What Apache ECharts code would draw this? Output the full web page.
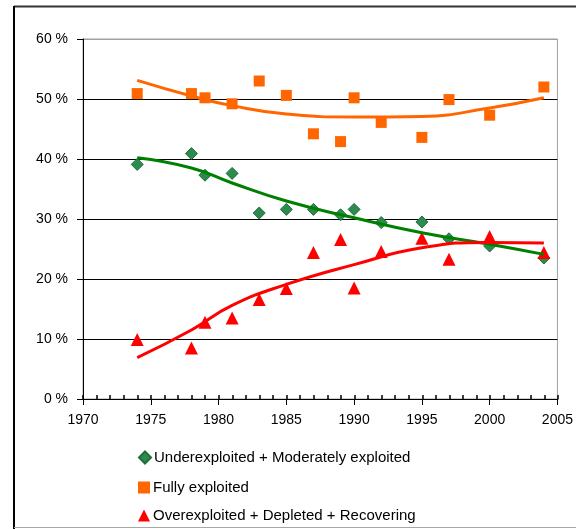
<!DOCTYPE html>
<html>
<head>
<meta charset="utf-8">
<script src="https://cdn.jsdelivr.net/npm/echarts@6/dist/echarts.min.js"></script>
<style>
html,body{margin:0;padding:0;background:#fff;}
#chart{width:576px;height:529px;}
</style>
</head>
<body>
<div id="chart"></div>
<script>
// Observed data (year, percent)
const years = [1974, 1978, 1979, 1981, 1983, 1985, 1987, 1989, 1990, 1992, 1995, 1997, 2000, 2004];
const underModerate = [39.1, 40.9, 37.3, 37.6, 31.0, 31.6, 31.6, 30.7, 31.6, 29.4, 29.5, 26.7, 25.5, 23.5];
const fully = [50.9, 50.9, 50.2, 49.2, 53.0, 50.6, 44.2, 42.9, 50.2, 46.1, 43.6, 49.9, 47.3, 52.0];
const overDepleted = [9.9, 8.5, 12.8, 13.5, 16.6, 18.4, 24.4, 26.6, 18.5, 24.6, 26.8, 23.3, 27.1, 24.4];

// Trend lines
const trendYears = [1974, 1978, 1981, 1985, 1990, 1995, 2000, 2004];
const trendUnder = [40.2, 38.5, 36.0, 33.0, 30.2, 27.7, 25.8, 24.1];
const trendFully = [53.1, 50.5, 48.9, 47.5, 47.0, 47.1, 48.5, 50.2];
const trendOver = [6.9, 11.5, 15.6, 19.1, 22.4, 25.2, 26.1, 26.0];

const yTicks = [0, 10, 20, 30, 40, 50, 60];
const names = ['Underexploited + Moderately exploited', 'Fully exploited', 'Overexploited + Depleted + Recovering'];

const pair = (xs, ys) => xs.map((x, i) => [x, ys[i]]);
const FONT = "'Liberation Sans', Arial, sans-serif";

const legendTops = [445, 475, 503];
const legends = names.map((n, i) => ({
  orient: 'vertical', left: 133, top: legendTops[i],
  itemWidth: 12, itemHeight: 12, itemGap: 0,
  data: [n],
  textStyle: {color: '#000', fontSize: 15, fontFamily: FONT, padding: [0, 0, 0, -2]}
}));

const gridBox = {left: 83, top: 39, width: 475, height: 360};

const chart = echarts.init(document.getElementById('chart'), null, {renderer: 'canvas'});
chart.setOption({
  animation: false,
  backgroundColor: '#fff',
  textStyle: {fontFamily: FONT},
  grid: [
    Object.assign({show: true, borderColor: '#a0a0a0', borderWidth: 1, backgroundColor: 'transparent'}, gridBox),
    Object.assign({show: false}, gridBox)
  ],
  xAxis: [{
    gridIndex: 0, type: 'value', min: 1970, max: 2005, interval: 5,
    axisLine: {show: true, lineStyle: {color: '#000', width: 1}},
    axisTick: {show: true, length: 6, lineStyle: {color: '#000'}},
    splitLine: {show: false},
    axisLabel: {color: '#000', fontSize: 14, fontFamily: FONT, margin: 14, formatter: v => String(v)}
  }, {
    gridIndex: 1, type: 'value', min: 1970, max: 2005, interval: 1,
    axisLine: {show: true, lineStyle: {color: '#000', width: 1}},
    axisTick: {show: true, inside: true, length: 4, lineStyle: {color: '#000', width: 1.5}},
    splitLine: {show: false},
    axisLabel: {show: false}
  }],
  yAxis: [{
    gridIndex: 0, type: 'value', min: 0, max: 60, interval: 10,
    axisLine: {show: true, lineStyle: {color: '#000', width: 1}},
    axisTick: {show: true, length: 6, lineStyle: {color: '#000'}},
    splitLine: {show: true, lineStyle: {color: ['#000', '#000', '#000', '#000', '#000', '#000', '#a0a0a0'], width: 1}},
    axisLabel: {color: '#000', fontSize: 14, fontFamily: FONT, margin: 15, formatter: v => yTicks.includes(v) ? v + ' %' : ''}
  }, {
    gridIndex: 1, type: 'value', min: 0, max: 60, interval: 10, show: false
  }],
  legend: legends,
  series: [
    {name: names[0], type: 'scatter', symbol: 'diamond', symbolSize: 12, z: 3,
     itemStyle: {color: '#2e8b4f', borderColor: '#1f6e3a', borderWidth: 1, opacity: 1}, data: pair(years, underModerate)},
    {name: names[1], type: 'scatter', symbol: 'rect', symbolSize: 11, z: 3,
     itemStyle: {color: '#ff6600', opacity: 1}, data: pair(years, fully)},
    {name: names[2], type: 'scatter', symbol: 'triangle', symbolSize: 13, z: 3,
     itemStyle: {color: '#ff0000', opacity: 1}, data: pair(years, overDepleted)},
    {name: 't1', type: 'line', smooth: true, showSymbol: false, symbol: 'none', z: 4,
     lineStyle: {color: '#008000', width: 3}, data: pair(trendYears, trendUnder)},
    {name: 't2', type: 'line', smooth: true, showSymbol: false, symbol: 'none', z: 4,
     lineStyle: {color: '#ff6600', width: 3}, data: pair(trendYears, trendFully)},
    {name: 't3', type: 'line', smooth: true, showSymbol: false, symbol: 'none', z: 4,
     lineStyle: {color: '#ff0000', width: 3}, data: pair(trendYears, trendOver)}
  ],
  graphic: [
    {type: 'line', shape: {x1: 14, y1: 6.5, x2: 576, y2: 6.5}, style: {stroke: '#333', lineWidth: 2}, silent: true},
    {type: 'line', shape: {x1: 14, y1: 6, x2: 14, y2: 529}, style: {stroke: '#000', lineWidth: 2}, silent: true},
    {type: 'line', shape: {x1: 14, y1: 527.5, x2: 576, y2: 527.5}, style: {stroke: '#a8a8a8', lineWidth: 1}, silent: true}
  ]
});
</script>
</body>
</html>
